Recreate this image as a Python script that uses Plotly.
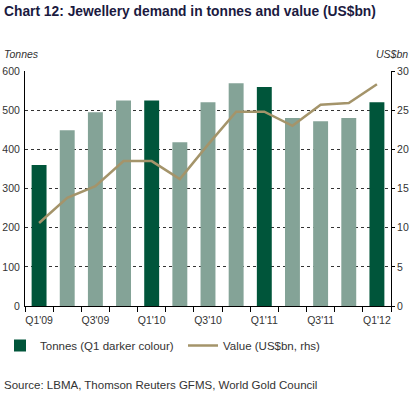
import plotly.graph_objects as go

quarters = ["Q1'09", "Q2'09", "Q3'09", "Q4'09", "Q1'10", "Q2'10", "Q3'10", "Q4'10",
            "Q1'11", "Q2'11", "Q3'11", "Q4'11", "Q1'12"]
tonnes = [360, 449, 495, 525, 525, 418, 520, 569, 559, 480, 472, 480, 520]
value_usbn = [10.6, 13.8, 15.3, 18.5, 18.5, 16.2, 20.6, 24.8, 24.8, 23.0, 25.7, 25.9, 28.3]
tick_labels = ["Q1'09", "Q3'09", "Q1'10", "Q3'10", "Q1'11", "Q3'11", "Q1'12"]

DARK = "#00553A"
LIGHT = "#84A397"
LINE = "#A4946A"
FONT = "Liberation Sans, Arial, sans-serif"
TXT = "#333333"

W, H = 411, 394
L, R, T, B = 25, 20, 71, 88
PW, PH = W - L - R, H - T - B

def px_x(x):
    return (x - L) / PW

def px_y(y):
    return (H - B - y) / PH

xpos = list(range(len(quarters)))
bar_colors = [DARK if q.startswith("Q1") else LIGHT for q in quarters]

fig = go.Figure()
fig.add_trace(go.Bar(x=xpos, y=tonnes, marker=dict(color=bar_colors, line=dict(width=0)),
                     name="Tonnes (Q1 darker colour)", yaxis="y", legend="legend"))
fig.add_trace(go.Scatter(x=xpos, y=value_usbn, mode="lines", line=dict(color=LINE, width=2.5),
                         name="Value (US$bn, rhs)", yaxis="y2", legend="legend2"))

leg_common = dict(orientation="h", xref="container", yref="container", xanchor="left",
                  yanchor="top", font=dict(size=11.5, color=TXT), itemwidth=30,
                  bgcolor="rgba(0,0,0,0)")

fig.update_layout(
    width=W, height=H,
    margin=dict(l=L, r=R, t=T, b=B, autoexpand=False),
    paper_bgcolor="white", plot_bgcolor="white",
    font=dict(family=FONT, size=10.5, color=TXT),
    bargap=0.47,
    showlegend=True,
    legend=dict(x=0, y=1 - 331 / H, **leg_common),
    legend2=dict(x=183 / W, y=1 - 331 / H, **leg_common),
    xaxis=dict(range=[-0.5, 12.5], tickmode="array",
               tickvals=[xpos[quarters.index(t)] for t in tick_labels], ticktext=tick_labels,
               ticks="", showgrid=False, showline=True, linecolor="black", linewidth=1,
               tickfont=dict(size=10.5, color=TXT), ticklabelstandoff=4,
               minor=dict(ticks="outside", tick0=-0.5, dtick=1, ticklen=5, tickcolor="black", showgrid=False),
               zeroline=False),
    yaxis=dict(range=[0, 600], dtick=100, showgrid=True, gridcolor="#333333", griddash="dot",
               gridwidth=1, showline=True, linecolor="black", linewidth=1, ticks="",
               tickfont=dict(size=10.5, color=TXT), zeroline=False, ticklabelstandoff=2),
    yaxis2=dict(range=[0, 30], dtick=5, overlaying="y", side="right", showgrid=False,
                showline=True, linecolor="black", linewidth=1, ticks="outside", ticklen=3,
                tickcolor="black", tickfont=dict(size=10.5, color=TXT), zeroline=False),
)

fig.add_annotation(text="<b>Chart 12: Jewellery demand in tonnes and value (US$bn)</b>",
                   xref="paper", yref="paper", x=px_x(2), y=px_y(11),
                   xanchor="left", yanchor="middle", showarrow=False,
                   font=dict(size=13.8, color="#1B1A3F", family=FONT))
fig.add_annotation(text="<i>Tonnes</i>", xref="paper", yref="paper", x=px_x(2),
                   y=px_y(54), xanchor="left", yanchor="middle", showarrow=False,
                   font=dict(size=10.5, color=TXT))
fig.add_annotation(text="<i>US$bn</i>", xref="paper", yref="paper", x=px_x(410),
                   y=px_y(54), xanchor="right", yanchor="middle", showarrow=False,
                   font=dict(size=10.5, color=TXT))
fig.add_annotation(text="Source: LBMA, Thomson Reuters GFMS, World Gold Council",
                   xref="paper", yref="paper", x=px_x(2), y=px_y(385),
                   xanchor="left", yanchor="middle", showarrow=False,
                   font=dict(size=11.5, color=TXT))

fig.write_html("out.html", config={"displayModeBar": False},
               post_script="document.body.style.margin='0';document.body.style.padding='0';")
